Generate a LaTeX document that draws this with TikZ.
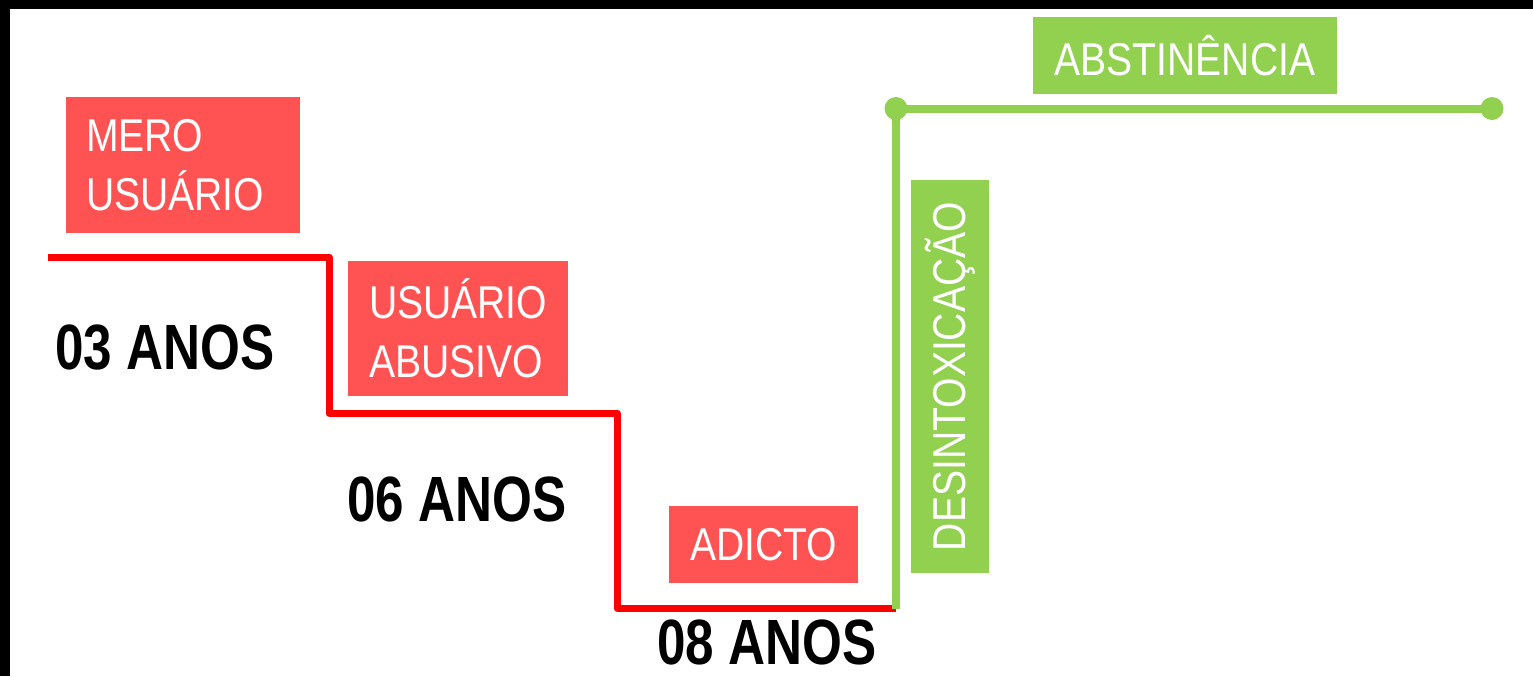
\documentclass[tikz,border=0pt]{standalone}
\usepackage{fontspec}
\setmainfont{Liberation Sans}
\newfontfamily\narrowfont{Liberation Sans}[FakeStretch=0.85]
\newfontfamily\narrowboldfont{Liberation Sans Bold}[FakeStretch=0.80]
\definecolor{stepred}{HTML}{FF5252}
\definecolor{stepgreen}{HTML}{92D050}
\begin{document}
\begin{tikzpicture}[x=0.5pt,y=-0.5pt,
  redline/.style={line width=3.5pt,draw=red,line join=round},
  greenline/.style={line width=4pt,draw=stepgreen},
  redbox/.style={fill=stepred,text=white,inner ysep=0pt,
    font=\narrowfont\fontsize{23}{29.5}\selectfont},
  greenbox/.style={fill=stepgreen,text=white,inner ysep=0pt,
    font=\narrowfont\fontsize{23}{29.5}\selectfont},
  yearlabel/.style={anchor=base west,inner sep=0pt,
    font=\narrowboldfont\fontsize{32}{38}\selectfont}]%
% page 1533 x 676 px, one unit = one pixel
\useasboundingbox (0,0) rectangle (1533,676);
\fill[black] (0,0) rectangle (1533,9);
\fill[black] (0,0) rectangle (10,676);
% staircase
\coordinate (s0) at (48,257);
\coordinate (s1) at (329,257);
\coordinate (s2) at (329,413);
\coordinate (s3) at (617,413);
\coordinate (s4) at (617,608.5);
\coordinate (s5) at (896,608.5);
\draw[redline] (s0)
 --(s1)
 --(s2)
 --(s3)
 --(s4)
 --(s5);
% way back up
\coordinate (g0) at (896,609);
\coordinate (g1) at (896,108.5);
\coordinate (g2) at (1492,108.5);
\draw[greenline] (g0)
 --(g1)
 --(g2);
\fill[stepgreen] (g1) circle (5.75pt);
\fill[stepgreen] (g2) circle (5.75pt);
% stages
\node[redbox,align=left,text width=97pt,inner xsep=10pt,
  minimum height=68pt] (mero) at (183,165) {MERO\\USUÁRIO};
\node[redbox,align=left,text width=89pt,inner xsep=10.5pt,
  minimum height=67.5pt] (abusivo) at (458,328.5) {USUÁRIO\\ABUSIVO};
\node[redbox,minimum width=94.5pt,minimum height=38.5pt] (adicto)
  at (763.5,544.5) {ADICTO};
\node[greenbox,rotate=90,minimum width=196.5pt,minimum height=39pt]
  (desintox) at (950,376.5) {DESINTOXICAÇÃO};
\node[greenbox,minimum width=152pt,minimum height=38.5pt] (abstin)
  at (1185,55.5) {ABSTINÊNCIA};
% years
\node[yearlabel] (anos03) at (55,369) {03 ANOS};
\node[yearlabel] (anos06) at (347,521) {06 ANOS};
\node[yearlabel] (anos08) at (657,664) {08 ANOS};
\end{tikzpicture}
\end{document}
